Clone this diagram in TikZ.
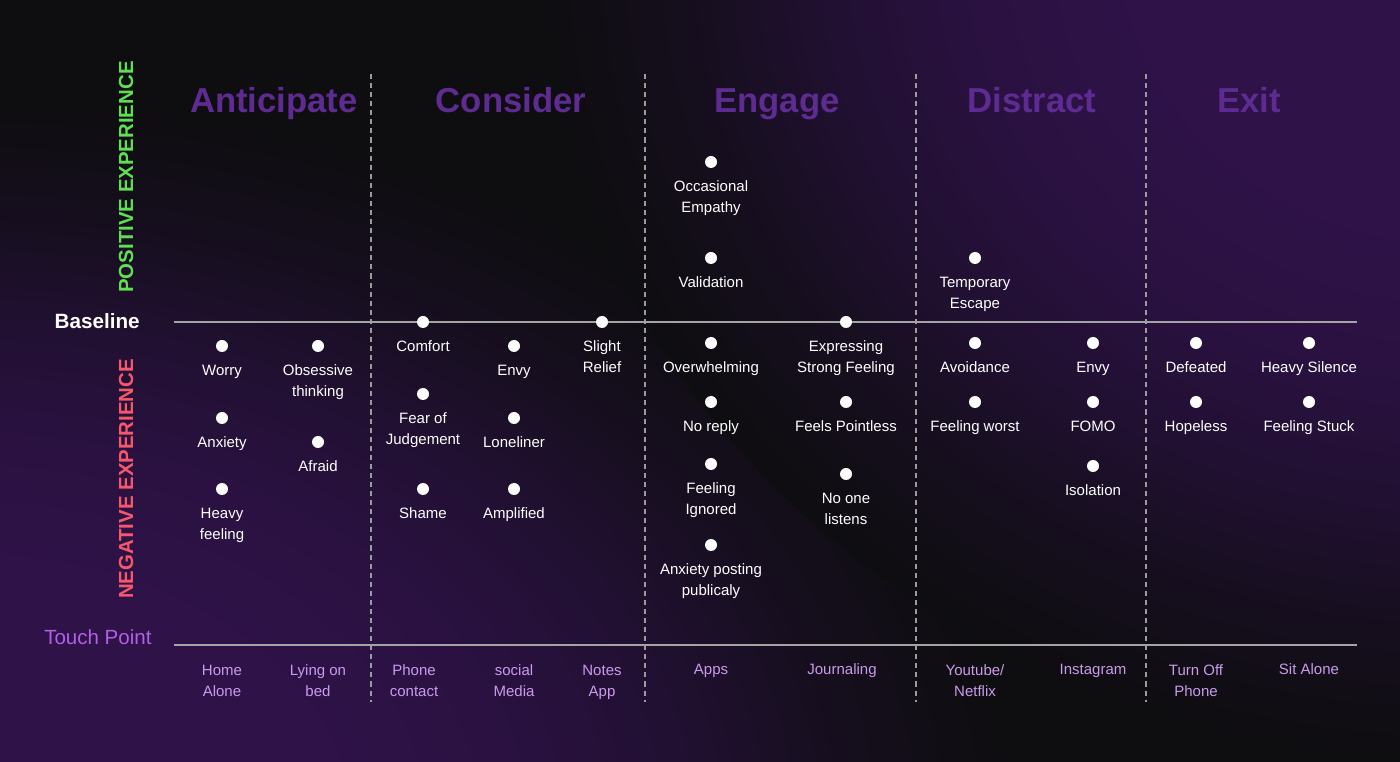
\documentclass[tikz,border=0pt]{standalone}
\usepackage{fontspec}
\setmainfont{Liberation Sans}
\usetikzlibrary{positioning}

\definecolor{bgdark}{HTML}{0E0D10}
\definecolor{bgpurple}{HTML}{2E1248}
\definecolor{phasecol}{HTML}{5E2B92}
\definecolor{poscol}{HTML}{5EE052}
\definecolor{negcol}{HTML}{F5586A}
\definecolor{touchcol}{HTML}{B25FE6}
\definecolor{tplabel}{HTML}{C99BEB}
\definecolor{rulecol}{HTML}{A4A4A4}
\definecolor{dashcol}{HTML}{9C9C9C}

% soft glow: solid in the middle, fading to the page colour at the path rim
% (the path rim sits at 25bp of the shading)
\pgfdeclareradialshading{glow}{\pgfpoint{0bp}{0bp}}{%
  color(0bp)=(bgpurple); color(9bp)=(bgpurple); color(13bp)=(bgpurple!88!bgdark);
  color(17bp)=(bgpurple!62!bgdark); color(21bp)=(bgpurple!25!bgdark);
  color(25bp)=(bgdark); color(50bp)=(bgdark)}

\tikzset{
  dot/.style={circle, fill=white, inner sep=0pt, minimum size=9pt},
  lbl/.style={text=white, inner sep=0pt, align=center, anchor=base,
    font=\fontsize{11.25}{15.75}\selectfont},
  tplbl/.style={text=tplabel, inner sep=0pt, align=center, anchor=base,
    font=\fontsize{11.25}{15.75}\selectfont},
  phase/.style={text=phasecol, inner sep=0pt, anchor=base,
    font=\fontsize{26}{30}\selectfont\bfseries},
  axislbl/.style={inner sep=0pt, rotate=90, anchor=center,
    font=\fontsize{15.3}{18}\selectfont\bfseries},
  hrule/.style={draw=rulecol, line width=1.5pt},
  vsep/.style={draw=dashcol, line width=1.1pt, dash pattern=on 3.8pt off 3pt},
}

\begin{document}
\begin{tikzpicture}[x=0.75pt, y=-0.75pt]
  % page and background glows
  \useasboundingbox (0,0) rectangle (1400,762);
  \fill[bgdark] (0,0) rectangle (1400,762);
  \begin{scope}
    \clip (0,0) rectangle (1400,762);
    \shade[shading=glow] (-40,820) ellipse [x radius=1050, y radius=720];
    \shade[shading=glow] (1460,-60) ellipse [x radius=920, y radius=820];
  \end{scope}

  % phase separators
  \foreach \px/\nm in {371/s1, 645/s2, 916/s3, 1146/s4} {
    \coordinate (\nm top) at (\px,74);
    \coordinate (\nm bot) at (\px,702);
    \draw[vsep] (\nm top) -- (\nm bot);
  }

  % baseline and touch point rules
  \coordinate (blL) at (174,322);
  \coordinate (blR) at (1357,322);
  \coordinate (tpL) at (174,645);
  \coordinate (tpR) at (1357,645);
  \draw[hrule] (blL) -- (blR);
  \draw[hrule] (tpL) -- (tpR);

  % row titles
  \node[text=white, inner sep=0pt, anchor=base east,
    font=\fontsize{15.5}{18}\selectfont\bfseries] (baseline) at (140,329) {Baseline};
  \node[text=touchcol, inner sep=0pt, anchor=base west,
    font=\fontsize{15.4}{18}\selectfont] (touch) at (44,645) {Touch Point};
  \node[axislbl, text=poscol] (pos) at (126,177) {POSITIVE EXPERIENCE};
  \node[axislbl, text=negcol] (neg) at (126,479) {NEGATIVE EXPERIENCE};

  % phases
  \node[phase] (ph1) at (274,113) {Anticipate};
  \node[phase] (ph2) at (511,113) {Consider};
  \node[phase] (ph3) at (777,113) {Engage};
  \node[phase] (ph4) at (1032,113) {Distract};
  \node[phase] (ph5) at (1249,113) {Exit};

  % emotions: dot, then its label below; the label's base is its last line,
  % so two-line labels sit one line (21px) lower
  \foreach \nm/\px/\py/\nl/\txt in {
      a1/222/346/0/Worry,
      a2/222/418/0/Anxiety,
      a3/222/489/1/{Heavy\\feeling},
      b1/318/346/1/{Obsessive\\thinking},
      b2/318/442/0/Afraid,
      c1/423/322/0/Comfort,
      c2/423/394/1/{Fear of\\Judgement},
      c3/423/489/0/Shame,
      d1/514/346/0/Envy,
      d2/514/418/0/Loneliner,
      d3/514/489/0/Amplified,
      e1/602/322/1/{Slight\\Relief},
      f1/711/162/1/{Occasional\\Empathy},
      f2/711/258/0/Validation,
      f3/711/343/0/Overwhelming,
      f4/711/402/0/No reply,
      f5/711/464/1/{Feeling\\Ignored},
      f6/711/545/1/{Anxiety posting\\publicaly},
      g1/846/322/1/{Expressing\\Strong Feeling},
      g2/846/402/0/Feels Pointless,
      g3/846/474/1/{No one\\listens},
      h1/975/258/1/{Temporary\\Escape},
      h2/975/343/0/Avoidance,
      h3/975/402/0/Feeling worst,
      i1/1093/343/0/Envy,
      i2/1093/402/0/FOMO,
      i3/1093/466/0/Isolation,
      j1/1196/343/0/Defeated,
      j2/1196/402/0/Hopeless,
      k1/1309/343/0/Heavy Silence,
      k2/1309/402/0/Feeling Stuck} {
    \node[dot] (\nm) at (\px,\py) {};
    \node[lbl] (\nm t) at ([yshift=-(30+21*\nl)*0.75pt]\nm.center) {\txt};
  }

  % touch points
  \foreach \nm/\px/\nl/\txt in {
      t1/222/1/{Home\\Alone},
      t2/318/1/{Lying on\\bed},
      t3/414/1/{Phone\\contact},
      t4/514/1/{social\\Media},
      t5/602/1/{Notes\\App},
      t6/711/0/Apps,
      t7/842/0/Journaling,
      t8/975/1/{Youtube/\\Netflix},
      t9/1093/0/Instagram,
      t10/1196/1/{Turn Off\\Phone},
      t11/1309/0/Sit Alone} {
    \node[tplbl] (\nm) at (\px,675+21*\nl) {\txt};
  }
\end{tikzpicture}
\end{document}
